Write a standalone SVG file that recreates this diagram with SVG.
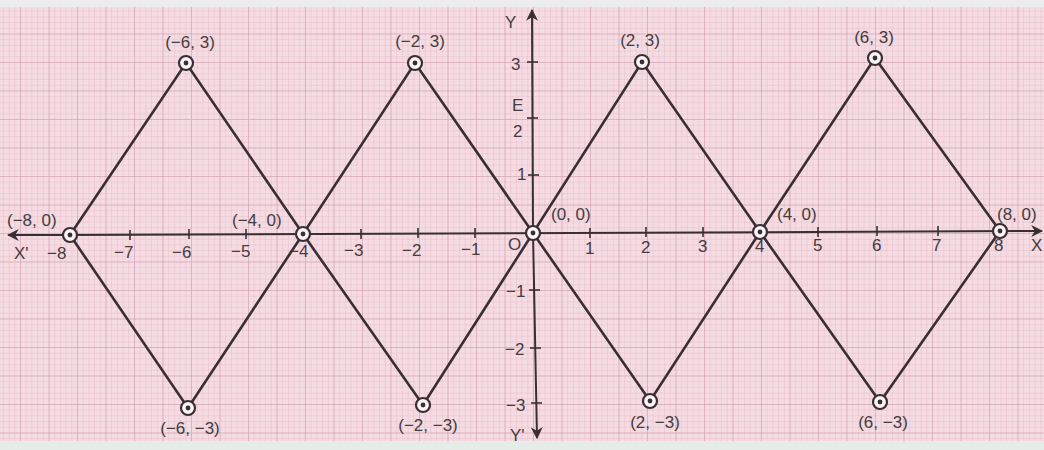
<svg xmlns="http://www.w3.org/2000/svg" width="1044" height="450" viewBox="0 0 1044 450">
<defs>
<pattern id="minor" patternUnits="userSpaceOnUse" x="533" y="233" width="5.7" height="5.7">
<path d="M0 0H5.7M0 0V5.7" stroke="#e3b6c4" stroke-width="0.8" fill="none"/>
</pattern>
<pattern id="major" patternUnits="userSpaceOnUse" x="533" y="233" width="28.5" height="28.5">
<path d="M0 0H28.5M0 0V28.5" stroke="#cc9bad" stroke-width="1" fill="none"/>
</pattern>
<marker id="arr" viewBox="0 0 10 10" refX="9" refY="5" markerWidth="6" markerHeight="6" orient="auto">
<path d="M0 0L10 5L0 10L3 5Z" fill="#3a2e35"/>
</marker>
<g id="pt">
<circle r="7" fill="#fbf5f7" stroke="#3a2e35" stroke-width="2.2"/>
<circle r="2.4" fill="#3a2e35"/>
</g>
</defs>
<style>
text{font-family:"Liberation Sans",Arial,sans-serif;font-size:17px;fill:#443c40}
.lbl{text-anchor:middle}
.axis{stroke:#3a2e35;stroke-width:2;fill:none}
.tick{stroke:#3a2e35;stroke-width:1.6}
.edge{stroke:#3a2e35;stroke-width:2.6;fill:none;stroke-linecap:round}
</style>
<rect width="1044" height="450" fill="#f5dbe2"/>
<rect width="1044" height="450" fill="url(#minor)"/>
<rect width="1044" height="450" fill="url(#major)"/>
<rect width="1044" height="7" fill="#ecebee"/>
<rect y="441" width="1044" height="9" fill="#e6ede9"/>

<g id="axes">
<line class="axis" x1="70" y1="235" x2="8" y2="235" marker-end="url(#arr)"/>
<line class="axis" x1="70" y1="235" x2="1042" y2="231" marker-end="url(#arr)"/>
<line class="axis" x1="533" y1="233" x2="532" y2="10" marker-end="url(#arr)"/>
<line class="axis" x1="533" y1="233" x2="537" y2="438" marker-end="url(#arr)"/>
<g class="tick">
<line x1="130" y1="230" x2="130" y2="240"/>
<line x1="189" y1="229" x2="189" y2="239"/>
<line x1="246" y1="229" x2="246" y2="239"/>
<line x1="361" y1="229" x2="361" y2="239"/>
<line x1="418" y1="228" x2="418" y2="238"/>
<line x1="475" y1="228" x2="475" y2="238"/>
<line x1="590" y1="228" x2="590" y2="238"/>
<line x1="646" y1="227" x2="646" y2="237"/>
<line x1="703" y1="227" x2="703" y2="237"/>
<line x1="818" y1="227" x2="818" y2="237"/>
<line x1="877" y1="226" x2="877" y2="236"/>
<line x1="938" y1="226" x2="938" y2="236"/>
<line x1="527" y1="62" x2="538" y2="62"/>
<line x1="527" y1="118" x2="538" y2="118"/>
<line x1="528" y1="175" x2="539" y2="175"/>
<line x1="529" y1="290" x2="540" y2="290"/>
<line x1="530" y1="348" x2="541" y2="348"/>
<line x1="531" y1="403" x2="542" y2="403"/>
</g>
<text x="14" y="259">X'</text>
<text x="47" y="259">−8</text>
<text x="114" y="258">−7</text>
<text x="172" y="258">−6</text>
<text x="231" y="257">−5</text>
<text x="289" y="257">−4</text>
<text x="344" y="256">−3</text>
<text x="402" y="256">−2</text>
<text x="461" y="255">−1</text>
<text x="508" y="250">O</text>
<text x="585" y="254">1</text>
<text x="641" y="253">2</text>
<text x="698" y="252">3</text>
<text x="755" y="252">4</text>
<text x="813" y="251">5</text>
<text x="872" y="251">6</text>
<text x="932" y="251">7</text>
<text x="994" y="251">8</text>
<text x="1031" y="251">X</text>
<text x="505" y="28">Y</text>
<text x="511" y="70">3</text>
<text x="512" y="111">E</text>
<text x="513" y="137">2</text>
<text x="517" y="180">1</text>
<text x="506" y="297">−1</text>
<text x="505" y="355">−2</text>
<text x="506" y="411">−3</text>
<text x="510" y="441">Y'</text>
</g>

<g id="connectors">
<polyline class="edge" points="70,235 186,63 303,234 415,63 533,233 642,62 760,232 875,58 1000,231"/>
<polyline class="edge" points="70,235 188,408 303,234 423,405 533,233 650,401 760,232 880,402 1000,231"/>
</g>

<g id="n-m8-0"><use href="#pt" x="70" y="235"/><text x="7" y="226">(−8, 0)</text></g>
<g id="n-m4-0"><use href="#pt" x="303" y="234"/><text x="232" y="226">(−4, 0)</text></g>
<g id="n-0-0"><use href="#pt" x="533" y="233"/><text x="551" y="220">(0, 0)</text></g>
<g id="n-4-0"><use href="#pt" x="760" y="232"/><text x="777" y="220">(4, 0)</text></g>
<g id="n-8-0"><use href="#pt" x="1000" y="231"/><text x="997" y="220">(8, 0)</text></g>
<g id="n-m6-3"><use href="#pt" x="186" y="63"/><text class="lbl" x="190" y="48">(−6, 3)</text></g>
<g id="n-m2-3"><use href="#pt" x="415" y="63"/><text class="lbl" x="420" y="47">(−2, 3)</text></g>
<g id="n-2-3"><use href="#pt" x="642" y="62"/><text class="lbl" x="640" y="46">(2, 3)</text></g>
<g id="n-6-3"><use href="#pt" x="875" y="58"/><text class="lbl" x="874" y="43">(6, 3)</text></g>
<g id="n-m6-m3"><use href="#pt" x="188" y="408"/><text class="lbl" x="190" y="434">(−6, −3)</text></g>
<g id="n-m2-m3"><use href="#pt" x="423" y="405"/><text class="lbl" x="428" y="431">(−2, −3)</text></g>
<g id="n-2-m3"><use href="#pt" x="650" y="401"/><text class="lbl" x="655" y="428">(2, −3)</text></g>
<g id="n-6-m3"><use href="#pt" x="880" y="402"/><text class="lbl" x="883" y="428">(6, −3)</text></g>
</svg>
